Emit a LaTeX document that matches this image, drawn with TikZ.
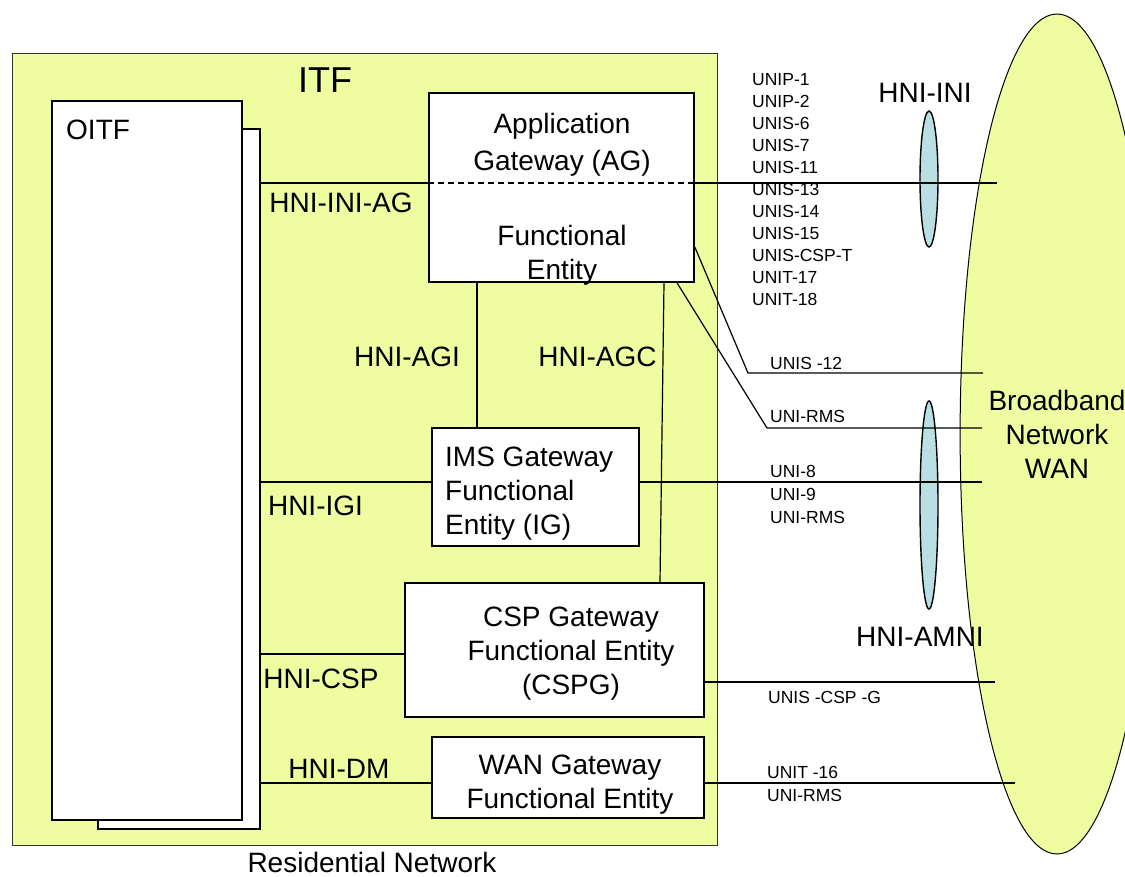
\documentclass[tikz,border=0pt]{standalone}
\usepackage{fontspec}
\setmainfont{Liberation Sans}
\usetikzlibrary{shapes.geometric}
\definecolor{itfyellow}{RGB}{239,252,160}
\definecolor{lensblue}{RGB}{185,223,227}
\newcommand{\bigtxt}{\fontsize{28}{34}\selectfont}
\newcommand{\smalltxt}{\fontsize{17.5}{22}\selectfont}

\begin{document}
\begin{tikzpicture}[x=1pt,y=-1pt,
	box/.style={draw, line width=1.6pt, fill=white, inner sep=0pt},
	lens/.style={ellipse, draw, line width=1.4pt, fill=lensblue, inner sep=0pt, minimum width=18pt},
	link/.style={line width=1.2pt},
	bigtext/.style={font=\bigtxt, inner sep=0pt, align=center},
	smalltext/.style={font=\smalltxt, inner sep=0pt, align=left, anchor=west}]
	\useasboundingbox (0,0) rectangle (1125,876);
	% residential network
	\node[draw=black!80, line width=1pt, fill=itfyellow, minimum width=705pt, minimum height=792pt] (itf) at (364.5,449) {};
	\node[box, line width=1.2pt, minimum width=162pt, minimum height=700pt] (oitfb) at (179,479) {};
	\node[box, minimum width=190pt, minimum height=719pt] (oitf) at (147,460.5) {};
	\node[box, minimum width=265pt, minimum height=189pt] (ag) at (561.5,187.5) {};
	\node[box, minimum width=207pt, minimum height=118pt] (ig) at (535.5,487) {};
	\node[box, line width=1.2pt, minimum width=299pt, minimum height=134pt] (cspg) at (554.5,650) {};
	\node[box, line width=1.2pt, minimum width=272pt, minimum height=81pt] (wang) at (568,777.5) {};
	% interfaces and WAN
	\node[lens, minimum height=136pt] (inil) at (929,179) {};
	\node[lens, minimum height=208pt] (amnil) at (929,505) {};
	\node[ellipse, draw, line width=1pt, fill=itfyellow, inner sep=0pt, minimum width=150pt, minimum height=840pt, font=\bigtxt, align=center] (wan) at (1057,434) {Broadband\\Network\\WAN};
	\coordinate (e1) at (997,183);
	\coordinate (e2) at (983,373);
	\coordinate (e3) at (982,428);
	\coordinate (e4) at (982,482);
	\coordinate (e5) at (995,682);
	\coordinate (e6) at (1015,783);
	% links
	\draw[link] (oitfb.east |- e1) -- (ag.west |- e1);
	\draw[link, dash pattern=on 6pt off 4pt] (ag.west |- e1) -- (ag.east |- e1);
	\draw[link] (ag.east |- e1) -- (e1);
	\draw[link] (ag.south -| 477,0) -- (ig.north -| 477,0);
	\draw[link] (ag.south -| 664,0) -- (cspg.north -| 660,0);
	\draw[link] (ag.east |- 0,247) -- (748,373) -- (e2);
	\draw[link] (ag.south -| 677,0) -- (767,428) -- (e3);
	\draw[link] (oitfb.east |- e4) -- (ig.west |- e4);
	\draw[link] (ig.east |- e4) -- (e4);
	\draw[link] (oitfb.east |- 0,654) -- (cspg.west |- 0,654);
	\draw[link] (cspg.east |- e5) -- (e5);
	\draw[link] (oitfb.east |- e6) -- (wang.west |- e6);
	\draw[link] (wang.east |- e6) -- (e6);
	% texts
	\node[bigtext, font=\fontsize{36}{40}\selectfont] (itft) at (325,80) {ITF};
	\node[bigtext, anchor=west] (oitft) at (66,130) {OITF};
	\node[bigtext] (agt) at (562,144.5) {Application\\[3pt]Gateway (AG)};
	\node[bigtext] (agb) at (562,255) {Functional\\Entity};
	\node[bigtext, align=left, anchor=west] (igt) at (445,493.5) {IMS Gateway\\Functional\\Entity (IG)};
	\node[bigtext] (cspt) at (571,653.5) {CSP Gateway\\Functional Entity\\(CSPG)};
	\node[bigtext] (wangt) at (570,784.5) {WAN Gateway\\Functional Entity};
	\node[bigtext] (inag) at (341,203) {HNI-INI-AG};
	\node[bigtext] (agi) at (407,357) {HNI-AGI};
	\node[bigtext] (agc) at (597.5,357) {HNI-AGC};
	\node[bigtext] (igi) at (315.5,506) {HNI-IGI};
	\node[bigtext] (cspl) at (321,679) {HNI-CSP};
	\node[bigtext] (dm) at (339,769) {HNI-DM};
	\node[bigtext] (init) at (925,93) {HNI-INI};
	\node[bigtext] (amnit) at (920,637) {HNI-AMNI};
	\node[bigtext] (resnet) at (372,862) {Residential Network};
	\node[smalltext] (unilist) at (752,190) {UNIP-1\\UNIP-2\\UNIS-6\\UNIS-7\\UNIS-11\\UNIS-13\\UNIS-14\\UNIS-15\\UNIS-CSP-T\\UNIT-17\\UNIT-18};
	\node[smalltext] (u12) at (770,363) {UNIS -12};
	\node[smalltext] (rms1) at (770,416) {UNI-RMS};
	\node[smalltext, font=\fontsize{17.5}{23}\selectfont] (u89) at (770,494) {UNI-8\\UNI-9\\UNI-RMS};
	\node[smalltext] (ucspg) at (768,697) {UNIS -CSP -G};
	\node[smalltext, font=\fontsize{17.5}{23}\selectfont] (u16) at (767,783.5) {UNIT -16\\UNI-RMS};
\end{tikzpicture}
\end{document}
